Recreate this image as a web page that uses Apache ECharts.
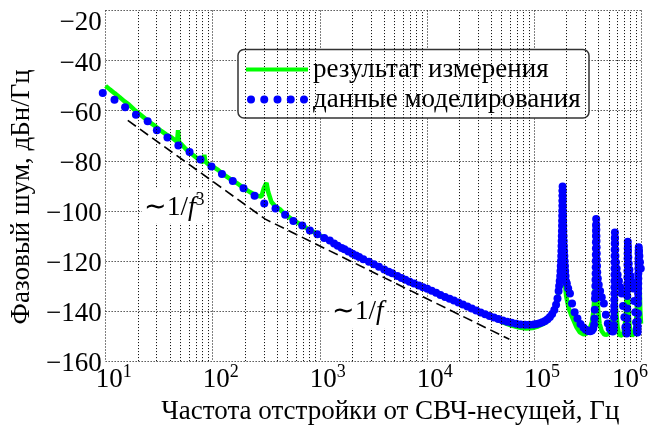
<!DOCTYPE html>
<html>
<head>
<meta charset="utf-8">
<script src="https://cdn.jsdelivr.net/npm/echarts@6/dist/echarts.min.js"></script>
<style>html,body{margin:0;padding:0;background:#fff}#c{width:662px;height:430px}</style>
</head>
<body>
<div id="c"></div>
<script>
// ---- data ----
const yTicks = [-160, -140, -120, -100, -80, -60, -40, -20];
const xDecades = [1, 2, 3, 4, 5, 6];
const xMinorMultipliers = [2, 3, 4, 5, 6, 7, 8, 9];

const seriesNames = ['результат измерения', 'данные моделирования'];

// measured (green line)
const measFreq = [10,11,12.1,13.5,15,16.5,18.5,21,23.5,26.5,29.5,33,37,41,44,46.5,47.5,48.5,51,55,60,66,72,78,82,83.5,85.5,90,98,110,125,145,168,195,225,257,285,300,318,330,354,385,423,470,560,680,800,950,1100,1300,1500,1750,2000,2300,2700,3200,3800,4500,5300,6300,7500,9000,10500,12500,15000,18000,21500,26000,31000,37000,44000,52000,62000,73000,85000,97000,110000,122000,134000,146000,156000,164000,170000,175000,179000,182000,183500,184300,185500,187500,190000,194000,200000,210000,222000,235000,250000,268000,290000,310000,330000,348000,360000,368000,373000,377000,379500,380000,382000,385000,390000,398000,410000,430000,455000,480000,505000,528000,545000,556000,562000,565000,566500,568500,572000,578000,588000,605000,625000,645000,665000,685000,705000,722000,735000,742000,747500,751000,757000,766000,780000,800000,825000,850000,872000,892000,910000,925000,938000,948000,960000,966000,974000,985000,1000000];
const measDb = [-50.1,-51.6,-53.0,-54.6,-56.3,-57.6,-59.6,-61.5,-63.2,-65.0,-66.4,-68.1,-69.6,-70.6,-71.6,-72.4,-67.8,-72.6,-73.4,-74.9,-76.6,-77.8,-79.1,-80.0,-80.6,-77.6,-80.3,-81.2,-82.0,-83.4,-85.3,-87.2,-88.9,-90.9,-92.6,-94.0,-94.3,-91,-88.8,-92.5,-96.5,-98.3,-99.3,-101.3,-103.6,-105.7,-107.6,-109.2,-110.8,-112.6,-114.0,-115.6,-116.9,-118.3,-119.8,-121.3,-122.9,-124.4,-125.9,-127.4,-128.9,-130.2,-131.3,-132.7,-134.3,-135.7,-137.2,-138.7,-140.2,-141.7,-143.2,-144.6,-145.8,-146.6,-147.0,-146.8,-146.1,-145.2,-144.0,-142.3,-140.0,-137.0,-132,-124,-115,-105,-96,-89.4,-98,-110,-120,-128,-134,-138.5,-141.4,-143.8,-146.5,-148.5,-149.3,-149,-147.5,-144.5,-140,-133,-125,-115,-105,-102.1,-112,-124,-133,-140,-145,-148,-149.4,-149.5,-148.8,-146.8,-143,-136,-127,-117,-108.1,-118,-128,-135,-141,-146.5,-149.5,-150.2,-149.8,-148.5,-146,-141,-133,-123,-111.6,-122,-132,-140,-145.5,-148.8,-150,-149.8,-148.3,-145.5,-141,-133,-124,-118,-114.2,-122,-132,-140,-145];

// simulation (blue dots)
const simFreq = [9.4,12.1,15.2,19.2,24.7,30.1,37.8,47.8,60.8,76.9,97.3,122,154,194,246,303,386,475,567,686,808,950,1100,1240,1360,1470,1600,1700,1850,2020,2180,2330,2550,2880,3200,3570,4000,4400,4750,5300,5800,6300,6900,7600,8400,9200,10100,11100,12200,13400,14800,16300,17900,19700,21700,23900,26300,28900,31800,35000,38500,42300,46500,51200,56300,62000,68200,75000,82500,90700,99800,106000,113000,120000,127000,134000,141000,148000,155000,161000,166000,170000,172000,174000,176000,177000,178000,179000,180000,180500,181000,181500,182000,182500,183000,183300,183600,184000,184300,184500,184800,185000,185300,185500,185800,186000,186400,186800,187200,187500,188000,188500,189200,189800,190600,191500,192500,193500,195000,196000,197500,199000,203000,209000,217000,227000,240000,255000,272000,290000,305000,320000,335000,348000,358000,365000,368000,370000,372000,373500,375000,376000,377000,377500,378200,378800,379200,379500,380000,380500,381000,381500,382000,383000,383500,384300,385000,386000,387000,388500,390000,395000,403000,415000,430000,450000,470000,490000,510000,530000,545000,553000,556000,558000,560000,561000,562000,563000,564000,564500,565000,565500,566000,566500,567000,567800,568500,569500,570500,571800,573000,575000,577000,583000,592000,605000,622000,640000,660000,680000,700000,715000,726000,734000,737000,739000,741000,742000,743500,744500,745500,746000,747000,747800,748500,749300,750000,751200,752500,754000,756000,761000,768000,780000,800000,822000,845000,865000,885000,900000,912000,921000,925000,928000,931000,933000,935000,937000,939000,940000,941500,942500,943500,944000,945000,946000,947500,949000,951000,953000,958000,966000,978000,995000];
const simDb = [-52.9,-55.6,-58.6,-61.6,-64.2,-67.8,-70.7,-73.9,-76.5,-79.5,-82.3,-85.3,-88.1,-91.0,-94.0,-97.1,-99.1,-101.6,-104.1,-105.9,-107.8,-109.3,-110.8,-111.8,-113.0,-113.9,-114.8,-115.3,-116.2,-117.1,-117.8,-118.4,-119.3,-120.3,-121.3,-122.3,-123.4,-124.3,-124.9,-126.0,-126.8,-127.5,-128.3,-129.0,-129.8,-130.5,-131.1,-131.9,-132.7,-133.6,-134.4,-135.1,-135.8,-136.6,-137.4,-138.2,-139.0,-139.8,-140.6,-141.3,-142.0,-142.6,-143.2,-143.8,-144.3,-144.7,-145.1,-145.4,-145.5,-145.5,-145.4,-145.2,-144.9,-144.5,-144.0,-143.3,-142.4,-141.2,-139.6,-137.5,-135.0,-132,-130,-128,-126,-124,-122,-120,-118,-116,-114,-112,-110,-108,-106,-104,-102,-100,-98,-96,-94,-92,-90.3,-92,-94,-96,-98,-100,-102,-104,-106,-108,-110,-112,-114,-116,-118,-120,-122,-124,-126,-128,-129,-131,-133,-137,-140.5,-143,-145.2,-146.6,-147.5,-148,-148.1,-147.8,-147,-145.5,-143,-139.5,-135,-133,-130,-127.5,-125,-122.5,-120,-117.5,-115,-112.5,-110,-108,-106,-103.3,-105.5,-107.5,-110,-112,-114.5,-117,-119.5,-122,-124.5,-127,-129.5,-132,-134.5,-137,-141.5,-145,-147,-148,-148.2,-147.9,-147.2,-145.6,-142.5,-140,-138,-135.5,-133,-130.5,-128,-125.5,-123,-120.5,-118,-115.5,-113,-110.8,-108.6,-110.8,-113,-115.5,-118,-120.5,-123,-125.5,-128,-130.5,-133,-138,-142.5,-146.5,-148.6,-149,-148.7,-147.8,-146,-143,-139,-134,-131.5,-129,-126.5,-124,-121.5,-119,-117,-115,-112.3,-114,-116,-118.5,-121,-123.5,-126,-128.5,-131,-136,-140.5,-144.5,-147.2,-148.5,-148.6,-147.8,-146.2,-144,-141,-137,-135,-133,-131,-129,-127,-125,-123,-121,-119,-117,-115.8,-114.5,-116,-118,-120.5,-123,-125.5,-128,-133,-138,-142,-145];

// asymptote guide (~1/f^3 then ~1/f)
const guideFreq = [16.1, 309.6, 59000];
const guideDb = [-63.9, -103.3, -151.3];

// ---- chart ----
const FONT = 'Liberation Serif';
const FS = 27;
const zip = (a, b) => a.map((v, i) => [v, b[i]]);
const minorX = [];
xDecades.slice(0, -1).forEach(e => xMinorMultipliers.forEach(m => minorX.push(m * Math.pow(10, e))));
const dotted = { type: [1, 2], color: '#000', width: 1 };

// five-dot legend icon
let dotsPath = '';
for (let i = 0; i < 5; i++) {
  const cx = 4 + i * 13.25;
  dotsPath += 'M' + (cx - 4) + ',4A4,4 0 1,1 ' + (cx + 4) + ',4A4,4 0 1,1 ' + (cx - 4) + ',4Z';
}
const txt = (extra) => Object.assign({ fontSize: FS, fontFamily: FONT, color: '#000' }, extra || {});

const chart = echarts.init(document.getElementById('c'), null, { renderer: 'canvas' });
chart.setOption({
  animation: false,
  textStyle: { fontFamily: FONT, color: '#000' },
  grid: { left: 101, right: 21, top: 10.5, bottom: 57.5, containLabel: false },
  xAxis: {
    type: 'log', logBase: 10, min: 10, max: 1e6,
    name: 'Частота отстройки от СВЧ-несущей, Гц',
    nameLocation: 'middle', nameGap: 25,
    nameTextStyle: txt({ verticalAlign: 'top', padding: [0, 0, 0, 34] }),
    axisLine: { show: false }, axisTick: { show: false },
    splitLine: { show: true, lineStyle: dotted },
    axisLabel: {
      margin: 2, fontFamily: FONT, fontSize: FS, color: '#000',
      formatter: v => {
        const e = Math.round(Math.log10(v));
        return (e === 6 ? '' : '{l|}') + '{b|10}{s|' + e + '}' + (e === 6 ? '{r|}' : '');
      },
      rich: {
        b: txt({ lineHeight: 30, verticalAlign: 'bottom' }),
        s: txt({ fontSize: 18, lineHeight: 30, verticalAlign: 'top' }),
        l: { width: 16 }, r: { width: 22 }
      }
    }
  },
  yAxis: {
    type: 'value', min: -160, max: -20, interval: 20,
    name: 'Фазовый шум, дБн/Гц',
    nameLocation: 'middle', nameGap: 62, nameRotate: 90,
    nameTextStyle: txt({ padding: [0, 22, 0, 0] }),
    axisLine: { show: false }, axisTick: { show: false },
    splitLine: { show: true, lineStyle: dotted },
    axisLabel: {
      margin: 4, fontFamily: FONT, fontSize: FS, color: '#000',
      formatter: v => (v === -20 ? '{t|' : '{n|') + '\u2212' + Math.abs(v) + '}',
      rich: {
        t: txt({ padding: [25, 0, 0, 0] }),
        n: txt({ padding: [6, 0, 0, 0] })
      }
    }
  },
  legend: [
    { left: 246, top: 56, padding: 0, itemWidth: 62, itemHeight: 4, z: 10, selectedMode: false,
      textStyle: txt(),
      data: [{ name: seriesNames[0], icon: 'rect' }] },
    { left: 247, top: 86, padding: 0, itemWidth: 61, itemHeight: 8, z: 10, selectedMode: false,
      textStyle: txt(),
      data: [{ name: seriesNames[1], icon: 'path://' + dotsPath, itemStyle: { opacity: 1 } }] }
  ],
  graphic: [
    { type: 'rect', z: 5, shape: { x: 238, y: 49.5, width: 351, height: 68.5, r: 6 },
      style: { fill: '#fff', stroke: '#333', lineWidth: 1.5 } },
    { type: 'text', z: 6, left: 142, top: 189,
      style: { text: '{a|\u223C1/}{f|f}{s|3}', backgroundColor: '#fff', padding: [2, 3, 2, 2],
        rich: { a: { fontSize: FS, fontFamily: FONT, fill: '#000', verticalAlign: 'bottom', lineHeight: 30 },
                f: { fontSize: FS, fontFamily: FONT, fontStyle: 'italic', fill: '#000', verticalAlign: 'bottom', lineHeight: 30 },
                s: { fontSize: 18, fontFamily: FONT, fill: '#000', verticalAlign: 'top', lineHeight: 30 } } } },
    { type: 'text', z: 6, left: 330, top: 296,
      style: { text: '{a|\u223C1/}{f|f}', backgroundColor: '#fff', padding: [2, 3, 2, 2],
        rich: { a: { fontSize: FS, fontFamily: FONT, fill: '#000', lineHeight: 28 },
                f: { fontSize: FS, fontFamily: FONT, fontStyle: 'italic', fill: '#000', lineHeight: 28 } } } }
  ],
  series: [
    { name: 'minor-grid', type: 'line', data: [], silent: true,
      markLine: { silent: true, symbol: ['none', 'none'], label: { show: false },
        lineStyle: dotted, data: minorX.map(v => ({ xAxis: v })) } },
    { name: seriesNames[0], type: 'line', color: '#00ff00', showSymbol: false, symbol: 'none',
      lineStyle: { width: 4.5, color: '#00ff00' }, data: zip(measFreq, measDb), z: 3 },
    { name: 'guide', type: 'line', showSymbol: false, symbol: 'none',
      lineStyle: { width: 1.6, color: '#000', type: [10, 5] }, data: zip(guideFreq, guideDb), z: 3 },
    { name: seriesNames[1], type: 'scatter', color: '#0000ff', symbol: 'circle', symbolSize: 8,
      itemStyle: { color: '#0000ff', opacity: 1 }, clip: false, data: zip(simFreq, simDb), z: 4 }
  ]
});
</script>
</body>
</html>
